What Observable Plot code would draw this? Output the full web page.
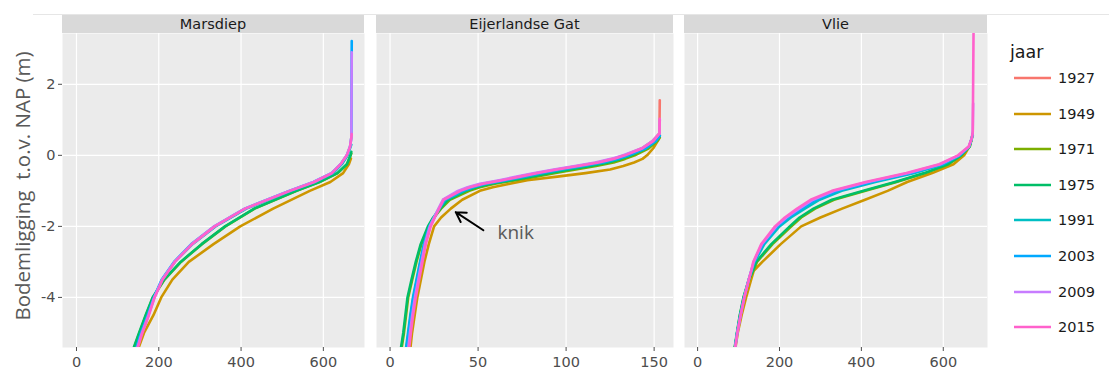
<!DOCTYPE html>
<html><head><meta charset="utf-8">
<script src="https://cdn.jsdelivr.net/npm/d3@7"></script>
<script src="https://cdn.jsdelivr.net/npm/@observablehq/plot@0.6"></script>
<style>
body{margin:0;background:#fff;}
#chart{position:relative;width:1109px;height:371px;overflow:hidden;font-family:"DejaVu Sans",sans-serif;}
.strip{position:absolute;top:15px;height:18px;background:#D9D9D9;color:#1a1a1a;font-size:14.5px;line-height:18px;text-align:center;}
.panel{position:absolute;top:0;}
#ytitle{position:absolute;left:22px;top:186px;transform:translate(-50%,-50%) rotate(-90deg);white-space:pre;font-family:"Open Sans",sans-serif;font-size:20.5px;color:#595959;}
#topline{position:absolute;left:33px;top:14px;width:1076px;border-top:1px solid #E6E6E6;}
#legend{position:absolute;left:1008px;top:0;}
.ltitle{position:absolute;left:2px;top:42px;font-size:17.5px;color:#1a1a1a;white-space:nowrap;}
.litem{position:absolute;left:0;height:20px;display:flex;align-items:center;font-size:14.5px;color:#1a1a1a;}
</style></head><body><div id="chart"></div><script>
// ---- data ----
const years = ["1927","1949","1971","1975","1991","2003","2009","2015"];
const panelNames = ["Marsdiep","Eijerlandse Gat","Vlie"];
const yTicks = [-4,-2,0,2];
const mTicks = [0,200,400,600];
const eTicks = [0,50,100,150];
const vTicks = [0,200,400,600];

// Marsdiep: depth levels and x per year
const mDepth = [-5.45,-5,-4.5,-4,-3.5,-3,-2.5,-2,-1.5,-1,-0.75,-0.5,-0.25,0,0.25];
const m1949 = [150,164,187,206,233,273,333,398,478,567,617,648,662,null,null];
const m1971 = [139,153,169,186,214,254,305,362,433,535,591,635,658,666,null];
const m1975 = [138,152,168,185,213,253,304,361,432,534,590,634,657,666,null];
const m1991 = [145,157,174,189,208,239,282,338,413,522,580,624,645,659,null];
const m2003 = [145,157,173,188,207,237,279,335,409,517,576,620,642,657,665];
const m2009 = [147,159,175,189,208,238,280,335,409,517,576,620,642,657,665];
const m2015 = [148,160,176,190,209,239,281,336,410,519,578,621,642,657,665];
const mEnd1949 = [[667,-0.09]];
const mEnd1971 = [[668,0.05]];
const mEnd1975 = [[668,0.1]];
const mEnd1991 = [[668,0.3]];
const mEnd2003 = [[668,0.5],[669,3.22]];
const mEnd2009 = [[668,0.5],[669,2.9]];
const mEnd2015 = [[668,0.5],[669,0.6]];

// Eijerlandse Gat
const eDepth = [-5.45,-5,-4.5,-4,-3.5,-3,-2.5,-2,-1.75,-1.5,-1.25,-1,-0.9,-0.8,-0.7,-0.6,-0.5,-0.4,-0.3,-0.2,-0.1,0,0.2,0.4];
const e1927 = [10.5,11.5,12.8,14.3,16.2,18.1,20,22.8,25.2,27.7,30.3,39.5,45,52.5,63.5,73.5,83.5,94.5,106.5,118,126.5,133,143,149];
const e1949 = [11.5,12.5,14,15.5,17.5,19.5,22,25,29,34.5,41,51,58.4,68,78,95,111,125,132.5,138.6,143.4,146,149.5,152];
const e1971 = [6.5,7.9,9.1,10.3,12.6,15,17.8,22,25,29,34,45,51,59.5,71.5,83,94,105.5,117,127,133.5,139,147,151.8];
const e1975 = [6.1,7.5,8.7,9.9,12.2,14.6,17.4,21.5,24.5,28.5,33,43,49,57,69,80,91,102,114,124,131,137,145.5,151];
const e1991 = [9,10.2,11.5,13,15,17,19.2,22.3,25,28,31.5,42,47.5,55,66.5,77,87,98,110,121.5,129.5,136,145.5,151];
const e2003 = [9.3,10.5,11.8,13.3,15.3,17.3,19.4,22.4,25,27.8,31,41,46.5,54,65,75.5,85.5,96.5,108.5,120,128.5,135,145,150.5];
const e2009 = [10.3,11.3,12.6,14.1,16,17.9,19.8,22.6,25,27.5,30,38.5,44,51,62,72,82,93,105,116.5,125.5,132.5,143,149];
const e2015 = [10.8,11.8,13.1,14.6,16.5,18.4,20.3,23.1,25.4,27.9,30.5,40,45.5,53,64,74,84,95,107,118.5,127,133.5,143.5,149.5];
const eEnd1927 = [[153,0.62],[153.2,1.55]];
const eEnd1949 = [[152.8,0.47]];
const eEnd1971 = [[153.2,0.5]];
const eEnd1975 = [[153.2,0.55]];
const eEnd1991 = [[153.2,0.55]];
const eEnd2003 = [[153.2,0.55]];
const eEnd2009 = [[153,0.62],[153.2,1.0]];
const eEnd2015 = [[153,0.61],[153.2,1.03]];

// Vlie
const vDepth = [-5.45,-5,-4.5,-4,-3.5,-3.25,-3,-2.5,-2,-1.75,-1.5,-1.25,-1,-0.75,-0.5,-0.25,0,0.25,0.5];
const v1949 = [92,98,107.5,118.5,130.7,137,158,203,253,300,353,409,464,512,573,625,651,664,null];
const v1971 = [90.5,96.5,103.5,112.5,126,136,145,183,229,253,287,333,410,486,557,613,645,665,670];
const v1975 = [90,96,103,112,125,135,143,180,225,249,283,328,405,482,554,611,643,664,670];
const v1991 = [91,96.5,104.5,113.5,125,132,139,163,200,228,262,298,352,434,530,601,641,664,670];
const v2003 = [91,96.5,104.5,113.5,125,131,138,159,195,221,253,288,341,423,521,597,640,663,670];
const v2009 = [91.5,97,105,114,125,131,137,157,192,217,248,282,334,416,515,593,638,663,670];
const v2015 = [91.5,97,105,114,125,131,136,155.5,189,213,243,276,328,410,510,590,636,662,670];
const vEnd1949 = [[668,0.4]];
const vEnd1971 = [[672,0.55]];
const vEnd1975 = [[672,0.6]];
const vEnd1991 = [[672,0.6]];
const vEnd2003 = [[672,0.6]];
const vEnd2009 = [[672,0.7],[673,1.46]];
const vEnd2015 = [[672,0.65],[674,3.6]];

// annotation
const knikArrow = [{x1: 53, y1: -2.11, x2: 37.3, y2: -1.6}];
const knikLabel = [{x: 61, y: -2.17, text: "knik"}];

// ---- styling / layout ----
const palette = ["#F8766D","#CD9600","#7CAE00","#00BE67","#00BFC4","#00A9FF","#C77CFF","#FF61CC"];
const yDomain = [-5.41, 3.43];

function buildRows(depth, series) {
  const rows = [];
  for (const [year, xs, ends] of series) {
    xs.forEach((x, i) => { if (x != null) rows.push({year, x, d: depth[i]}); });
    ends.forEach(([x, d]) => rows.push({year, x, d}));
  }
  return rows;
}

const panels = [
  {name: panelNames[0], left: 0, width: 364, marginLeft: 62, xDomain: [-34, 700], ticks: mTicks, showY: true,
   rows: buildRows(mDepth, [["1949",m1949,mEnd1949],["1971",m1971,mEnd1971],["1975",m1975,mEnd1975],["1991",m1991,mEnd1991],["2003",m2003,mEnd2003],["2009",m2009,mEnd2009],["2015",m2015,mEnd2015]])},
  {name: panelNames[1], left: 376, width: 297, marginLeft: 0, xDomain: [-7.7, 161], ticks: eTicks, showY: false, annot: true,
   rows: buildRows(eDepth, [["1927",e1927,eEnd1927],["1949",e1949,eEnd1949],["1971",e1971,eEnd1971],["1975",e1975,eEnd1975],["1991",e1991,eEnd1991],["2003",e2003,eEnd2003],["2009",e2009,eEnd2009],["2015",e2015,eEnd2015]])},
  {name: panelNames[2], left: 684, width: 303, marginLeft: 0, xDomain: [-32, 708], ticks: vTicks, showY: false,
   rows: buildRows(vDepth, [["1949",v1949,vEnd1949],["1971",v1971,vEnd1971],["1975",v1975,vEnd1975],["1991",v1991,vEnd1991],["2003",v2003,vEnd2003],["2009",v2009,vEnd2009],["2015",v2015,vEnd2015]])}
];

const chart = document.getElementById("chart");
const tl = document.createElement("div"); tl.id = "topline"; chart.appendChild(tl);

for (const p of panels) {
  const marks = [
    Plot.frame({fill: "#EBEBEB", stroke: null}),
    Plot.gridX({ticks: p.ticks, stroke: "white", strokeOpacity: 1, strokeWidth: 1.2}),
    Plot.gridY({ticks: yTicks, stroke: "white", strokeOpacity: 1, strokeWidth: 1.2}),
    Plot.axisX({ticks: p.ticks, tickSize: 4, tickPadding: 5, fontSize: 14.5, label: null, tickFormat: d => String(d)}),
    Plot.line(p.rows, {x: "x", y: "d", z: "year", stroke: "year", strokeWidth: 2.6, clip: true})
  ];
  if (p.showY) marks.push(Plot.axisY({ticks: yTicks, tickSize: 4, tickPadding: 3, fontSize: 14.5, label: null, tickFormat: d => String(d)}));
  if (p.annot) {
    marks.push(Plot.arrow(knikArrow, {x1: "x1", y1: "y1", x2: "x2", y2: "y2", stroke: "black", strokeWidth: 2, headLength: 10}));
    marks.push(Plot.text(knikLabel, {x: "x", y: "y", text: "text", textAnchor: "start", fontSize: 19, fill: "#595959", fontFamily: "Open Sans"}));
  }
  const svg = Plot.plot({
    width: p.width, height: 371,
    marginLeft: p.marginLeft, marginRight: 0, marginTop: 33, marginBottom: 24,
    x: {domain: p.xDomain},
    y: {domain: yDomain, axis: p.showY ? undefined : null},
    color: {domain: years, range: palette},
    style: {fontFamily: "DejaVu Sans", fontSize: "14.5px", color: "#4d4d4d", background: "transparent", overflow: "visible"},
    marks
  });
  const wrap = document.createElement("div");
  wrap.className = "panel";
  wrap.style.left = p.left + "px";
  wrap.appendChild(svg);
  chart.appendChild(wrap);
  const strip = document.createElement("div");
  strip.className = "strip";
  strip.style.left = (p.left + p.marginLeft) + "px";
  strip.style.width = (p.width - p.marginLeft) + "px";
  strip.textContent = p.name;
  chart.appendChild(strip);
}

const yt = document.createElement("div");
yt.id = "ytitle";
yt.textContent = "Bodemligging  t.o.v. NAP (m)";
chart.appendChild(yt);

// legend
const leg = document.createElement("div");
leg.id = "legend";
const lt = document.createElement("div"); lt.className = "ltitle"; lt.textContent = "jaar"; leg.appendChild(lt);
years.forEach((y, i) => {
  const it = document.createElement("div");
  it.className = "litem";
  it.style.top = (78 - 10 + i * 35.6) + "px";
  it.innerHTML = `<svg width="50" height="20"><line x1="6" x2="43" y1="10" y2="10" stroke="${palette[i]}" stroke-width="2.6"/></svg><span>${y}</span>`;
  leg.appendChild(it);
});
chart.appendChild(leg);
</script></body></html>
